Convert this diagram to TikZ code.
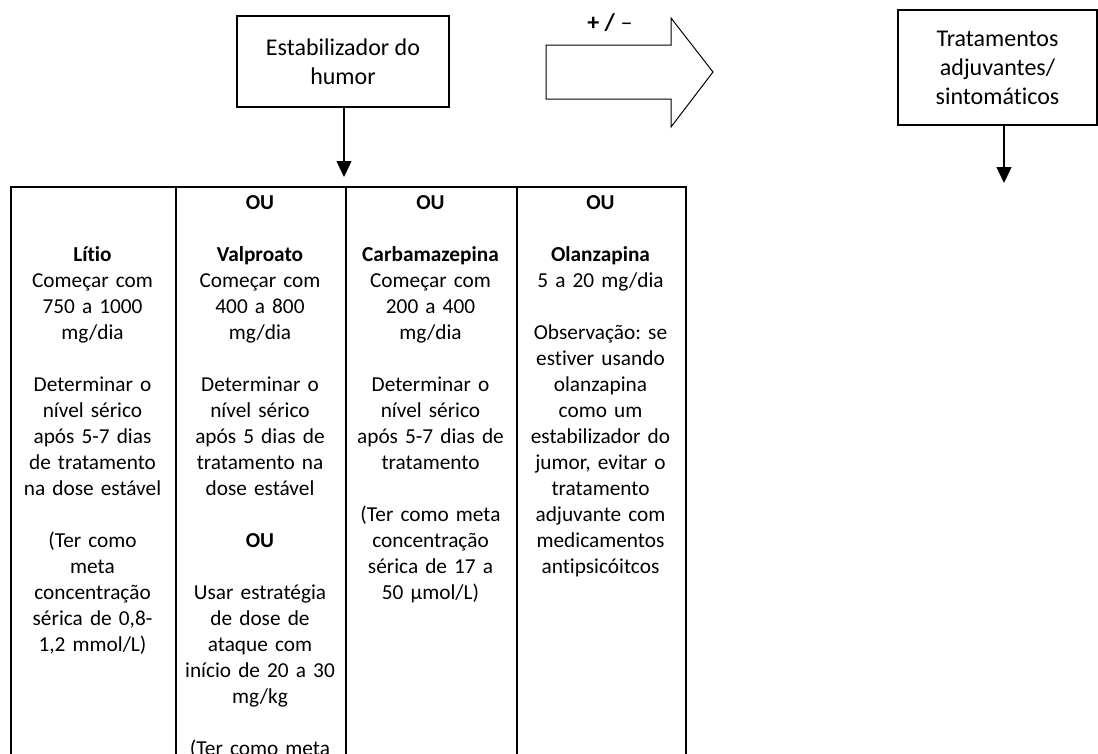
\documentclass[tikz,border=0pt]{standalone}
\usepackage{fontspec}
\setmainfont[Ligatures=NoCommon]{Carlito}
\frenchspacing
\usetikzlibrary{arrows.meta}
\tikzset{
  box/.style={draw, line width=1.5, align=center, inner sep=0, font=\fontsize{24}{29}\selectfont},
  cell/.style={draw, line width=1.8, anchor=north west, minimum height=700, inner sep=0},
  celltext/.style={anchor=north, inner sep=0, text width=165, align=center, font=\fontsize{21.3}{26}\selectfont},
}
\begin{document}
\begin{tikzpicture}[x=1pt, y=-1pt, >={Triangle[length=16pt,width=15pt]}]
\useasboundingbox (0,0) rectangle (1098,753);

\node[box, minimum width=212, minimum height=91] (box_stab) at (343,61.5) {Estabilizador do\\humor};
\coordinate (stab_end) at (344,177);
\draw [->, line width=1.3] (stab_end |- box_stab.south) -- (stab_end);

\draw[line width=1] (546,45) -- (671,45) -- (671,18) -- (713,72) -- (671,127) -- (671,99) -- (546,99) -- cycle;
\node[inner sep=0, font=\fontsize{24}{29}\selectfont] (pm) at (610,23) {\textbf{+ /} –};

\node[box, minimum width=199, minimum height=115] (box_adj) at (997.5,67.5) {Tratamentos\\adjuvantes/\\sintomáticos};
\coordinate (adj_end) at (1004,183);
\draw [->, line width=1.3] (adj_end |- box_adj.south) -- (adj_end);

\node[cell, minimum width=165] (col_A) at (10,186) {};
\node[cell, minimum width=170] (col_B) at (175,186) {};
\node[cell, minimum width=171] (col_C) at (345,186) {};
\node[cell, minimum width=169] (col_D) at (516,186) {};

\node[celltext] (txt_A) at (92.5,195) {\vphantom{OU}\\[26pt]
  \textbf{Lítio}\\Começar com\\750 a 1000\\mg/dia\\[26pt]
  Determinar o\\nível sérico\\após 5-7 dias\\de tratamento\\na dose estável\\[26pt]
  (Ter como\\meta\\concentração\\sérica de 0,8-\\1,2 mmol/L)};

\node[celltext] (txt_B) at (260,195) {\textbf{OU}\\[26pt]
  \textbf{Valproato}\\Começar com\\400 a 800\\mg/dia\\[26pt]
  Determinar o\\nível sérico\\após 5 dias de\\tratamento na\\dose estável\\[26pt]
  \textbf{OU}\\[26pt]
  Usar estratégia\\de dose de\\ataque com\\início de 20 a 30\\mg/kg\\[26pt]
  (Ter como meta};

\node[celltext] (txt_C) at (430.5,195) {\textbf{OU}\\[26pt]
  \textbf{Carbamazepina}\\Começar com\\200 a 400\\mg/dia\\[26pt]
  Determinar o\\nível sérico\\após 5-7 dias de\\tratamento\\[26pt]
  (Ter como meta\\concentração\\sérica de 17 a\\50 µmol/L)};

\node[celltext] (txt_D) at (600.5,195) {\textbf{OU}\\[26pt]
  \textbf{Olanzapina}\\5 a 20 mg/dia\\[26pt]
  Observação: se\\estiver usando\\olanzapina\\como um\\estabilizador do\\jumor, evitar o\\tratamento\\adjuvante com\\medicamentos\\antipsicóitcos};

\end{tikzpicture}
\end{document}
